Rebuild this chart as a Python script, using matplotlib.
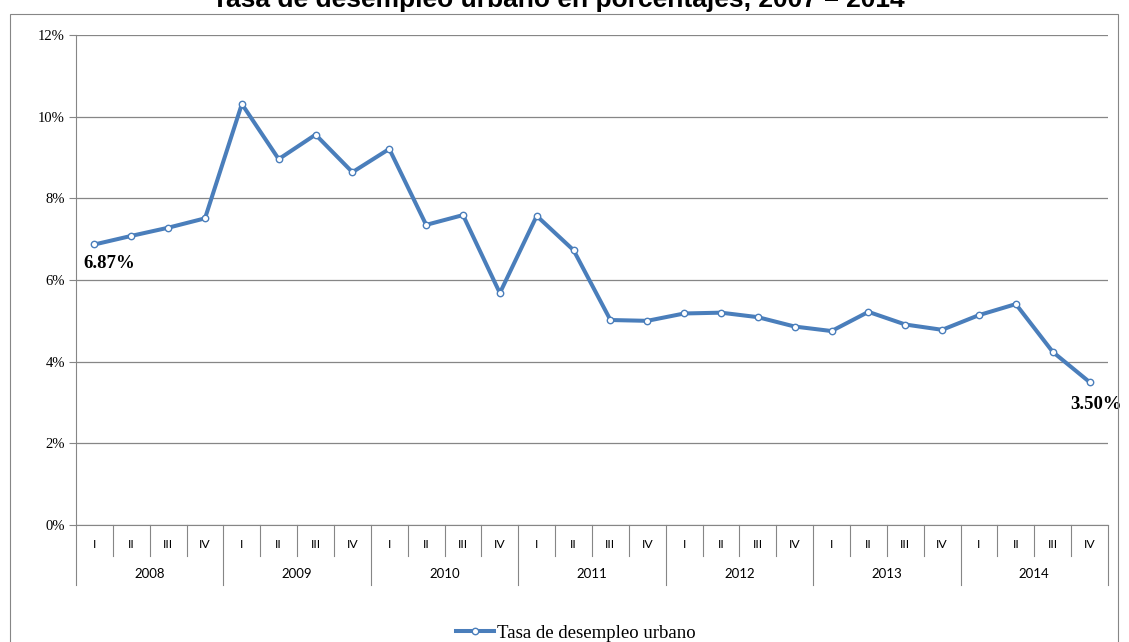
import numpy as np
import matplotlib.pyplot as plt
from matplotlib.patches import Rectangle

years = ["2008", "2009", "2010", "2011", "2012", "2013", "2014"]
quarters = ["I", "II", "III", "IV"]
tasa = [6.87, 7.08, 7.28, 7.51,
        10.31, 8.96, 9.56, 8.64,
        9.21, 7.35, 7.59, 5.68,
        7.57, 6.73, 5.02, 5.00,
        5.18, 5.20, 5.09, 4.86,
        4.75, 5.22, 4.91, 4.78,
        5.14, 5.41, 4.24, 3.50]
yticks = [0, 2, 4, 6, 8, 10, 12]

serif = "Liberation Serif"
cat_font = "Lato"
blue = "#4A7EBB"
gray = "#868686"

fig = plt.figure(figsize=(11.29, 6.42), dpi=100)
W, H = 1129, 642
ax = fig.add_axes([76 / W, 1 - 525 / H, (1108 - 76) / W, (525 - 35) / H])

# outer chart border
fig.patches.append(Rectangle((10 / W, -0.05), (1118 - 10) / W, 1.05 - 14 / H,
                             transform=fig.transFigure, fill=False,
                             edgecolor=gray, lw=0.8))

n = len(tasa)
x = np.arange(n)
ax.plot(x, tasa, color=blue, lw=2.9, marker="o", ms=4.6,
        mfc="white", mec=blue, mew=1.0, label="Tasa de desempleo urbano",
        zorder=3)

ax.set_xlim(-0.5, n - 0.5)
ax.set_ylim(0, 12)
ax.set_yticks(yticks)
ax.set_yticklabels([f"{v}%" for v in yticks], fontfamily=serif, fontsize=10.5)
ax.yaxis.grid(True, color=gray, lw=0.9)
ax.set_axisbelow(True)
ax.tick_params(axis="y", length=5, color=gray, pad=3)
ax.set_xticks([])
for s in ["top", "right"]:
    ax.spines[s].set_visible(False)
ax.spines["left"].set_color(gray)
ax.spines["bottom"].set_color(gray)

# multi-level category axis
tr = ax.get_xaxis_transform()
px = 1.0 / (525 - 35)
for i in range(n + 1):
    depth = 60 if i % 4 == 0 else 31
    ax.plot([i - 0.5, i - 0.5], [0, -depth * px], transform=tr,
            color=gray, lw=0.8, clip_on=False)
for i in range(n):
    ax.text(i, -20 * px, quarters[i % 4], transform=tr, ha="center",
            va="center", fontsize=8.8, fontfamily=cat_font)
for j, yr in enumerate(years):
    ax.text(j * 4 + 1.5, -49 * px, yr, transform=tr, ha="center",
            va="center", fontsize=9.5, fontfamily=cat_font)

# data labels
ax.annotate(f"{tasa[0]:.2f}%", (0, tasa[0]), xytext=(-8, -14),
            textcoords="offset points", ha="left", va="center",
            fontsize=13.5, fontweight="bold", fontfamily=serif)
ax.annotate(f"{tasa[-1]:.2f}%", (n - 1, tasa[-1]), xytext=(5, -16),
            textcoords="offset points", ha="center", va="center",
            fontsize=13.5, fontweight="bold", fontfamily=serif,
            annotation_clip=False)

# title sits mostly above the top edge of the image
fig.text(558 / W, 1 - 7.5 / H, "Tasa de desempleo urbano en porcentajes, 2007 \u2013 2014",
         ha="center", va="baseline", fontsize=19, fontweight="bold",
         fontfamily="Liberation Sans")

fig.legend(loc="center", bbox_to_anchor=(576 / W, 1 - 633 / H), frameon=False,
           prop={"family": serif, "size": 13.5}, handlelength=2.0,
           handletextpad=0.2)

fig.savefig("out.png", dpi=100)
